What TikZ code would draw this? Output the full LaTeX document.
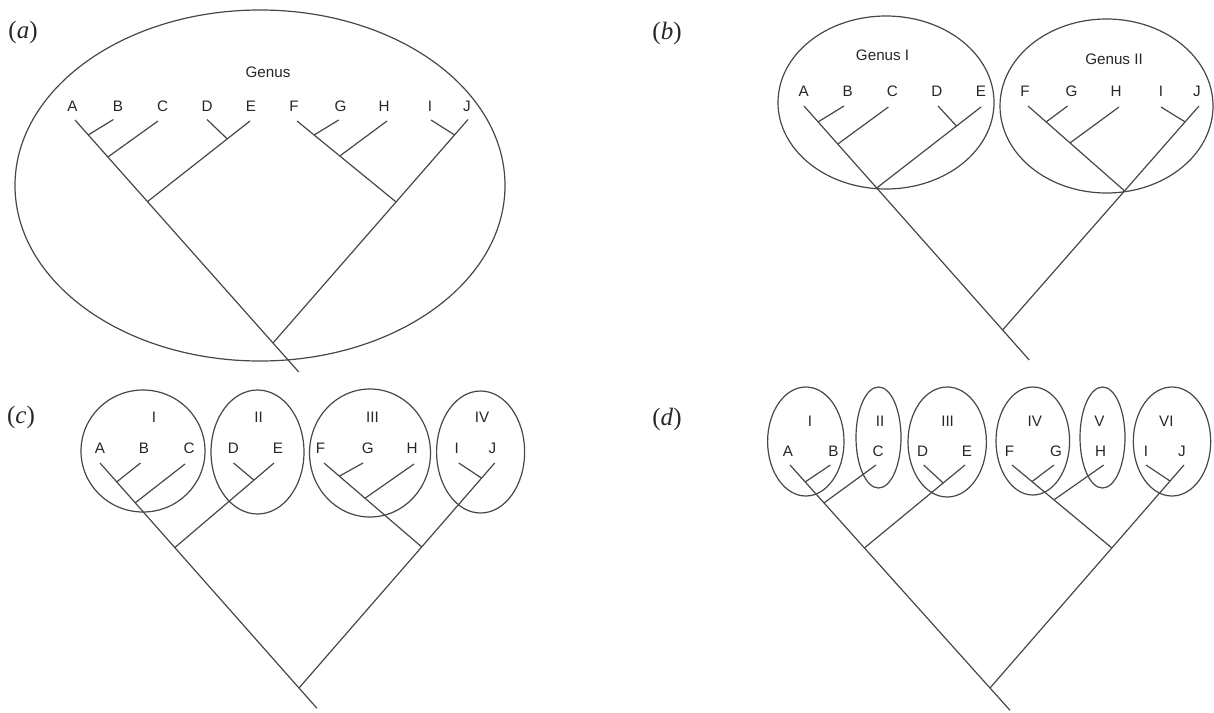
\documentclass[tikz,border=0pt]{standalone}
\usepackage{fontspec}
\setmainfont{Liberation Serif}
\newfontfamily\labfont{Liberation Sans}
\usetikzlibrary{calc,shapes.geometric}
\newcommand\drawtree[1]{%
  \draw[br] (#1TA) -- (#1AB) -- (#1ABC) -- (#1AE) -- (#1R) -- (#1End);
  \draw[br] (#1TJ) -- (#1IJ) -- (#1FJ) -- (#1R);
  \draw[br] (#1TE) -- (#1DE) -- (#1AE);
  \draw[br] (#1TF) -- (#1FG) -- (#1FH) -- (#1FJ);
  \draw[br] (#1TB) -- (#1AB);
  \draw[br] (#1TC) -- (#1ABC);
  \draw[br] (#1TD) -- (#1DE);
  \draw[br] (#1TG) -- (#1FG);
  \draw[br] (#1TH) -- (#1FH);
  \draw[br] (#1TI) -- (#1IJ);
}
\begin{document}
\begin{tikzpicture}[x=0.5pt,y=-0.5pt,
  br/.style={draw=black!72, line width=0.6pt},
  grp/.style={ellipse, draw=black!72, line width=0.6pt, inner sep=0pt},
  lab/.style={font=\labfont\fontsize{7.6}{8.5}\selectfont, text=black!85, inner sep=0pt},
  plab/.style={font=\fontsize{12.5}{14}\selectfont, text=black!85, inner sep=0pt}]
\useasboundingbox (0,0) rectangle (1214,712);

% ---------------- panel (a) ----------------
\node[plab] (pa) at (23,32) {(\textit{a})};
\node[grp, minimum width=245pt, minimum height=175.5pt] (aEll) at (260,185.5) {};
\node[lab] (aGen) at (268,72) {Genus};
\foreach \n/\x in {A/72.4,B/118,C/162.6,D/207,E/251,F/294,G/340.6,H/384,I/430,J/467}
  \node[lab] (aL\n) at (\x,106) {\n};
\coordinate (aTA) at (75,120);
\coordinate (aTB) at (113.4,119.5);
\coordinate (aTC) at (158,121);
\coordinate (aTD) at (207,119.5);
\coordinate (aTE) at (250,121);
\coordinate (aTF) at (297,121);
\coordinate (aTG) at (338.7,120);
\coordinate (aTH) at (387,121);
\coordinate (aTI) at (431,120);
\coordinate (aTJ) at (468,119.5);
\coordinate (aR) at (273,343);
\coordinate (aAB) at ($(aTA)!0.067!(aR)$);
\coordinate (aABC) at ($(aTA)!0.166!(aR)$);
\coordinate (aAE) at ($(aTA)!0.366!(aR)$);
\coordinate (aEnd) at ($(aTA)!1.13!(aR)$);
\coordinate (aIJ) at ($(aTJ)!0.069!(aR)$);
\coordinate (aFJ) at ($(aTJ)!0.369!(aR)$);
\coordinate (aDE) at ($(aTE)!0.222!(aAE)$);
\coordinate (aFG) at ($(aTF)!0.173!(aFJ)$);
\coordinate (aFH) at ($(aTF)!0.432!(aFJ)$);
\drawtree{a}

% ---------------- panel (b) ----------------
\node[plab] (pb) at (667,33) {(\textit{b})};
\node[grp, minimum width=108pt, minimum height=86.5pt] (bEll1) at (886,102.5) {};
\node[grp, minimum width=106.5pt, minimum height=87pt] (bEll2) at (1106.5,106) {};
\node[lab] (bGen1) at (882.6,55) {Genus I};
\node[lab] (bGen2) at (1114,59) {Genus II};
\foreach \n/\x in {A/803.6,B/847.8,C/892.3,D/936.8,E/981,F/1025,G/1071.5,H/1116,I/1161,J/1197}
  \node[lab] (bL\n) at (\x,91) {\n};
\coordinate (bTA) at (804,106);
\coordinate (bTB) at (844,106);
\coordinate (bTC) at (888.4,107);
\coordinate (bTD) at (938,106);
\coordinate (bTE) at (981,107);
\coordinate (bTF) at (1028,106);
\coordinate (bTG) at (1067.6,106);
\coordinate (bTH) at (1119,107);
\coordinate (bTI) at (1161,107);
\coordinate (bTJ) at (1199,106);
\coordinate (bR) at (1002.6,330);
\coordinate (bAB) at ($(bTA)!0.071!(bR)$);
\coordinate (bABC) at ($(bTA)!0.17!(bR)$);
\coordinate (bAE) at ($(bTA)!0.366!(bR)$);
\coordinate (bEnd) at ($(bTA)!1.134!(bR)$);
\coordinate (bIJ) at ($(bTJ)!0.071!(bR)$);
\coordinate (bFJ) at ($(bTJ)!0.379!(bR)$);
\coordinate (bDE) at ($(bTE)!0.235!(bAE)$);
\coordinate (bFG) at ($(bTF)!0.188!(bFJ)$);
\coordinate (bFH) at ($(bTF)!0.435!(bFJ)$);
\drawtree{b}

% ---------------- panel (c) ----------------
\node[plab] (pc) at (21,417) {(\textit{c})};
\node[grp, minimum width=62pt, minimum height=61pt] (cEll1) at (143,451) {};
\node[grp, minimum width=46.5pt, minimum height=62pt] (cEll2) at (257.5,452) {};
\node[grp, minimum width=60.5pt, minimum height=64pt] (cEll3) at (370,453) {};
\node[grp, minimum width=44pt, minimum height=61pt] (cEll4) at (480.6,452) {};
\node[lab] (cN1) at (154,417) {I};
\node[lab] (cN2) at (258.6,417) {II};
\node[lab] (cN3) at (372.4,417) {III};
\node[lab] (cN4) at (482,417) {IV};
\foreach \n/\x in {A/99.9,B/144,C/189,D/233.4,E/278,F/320.5,G/367.7,H/412,I/456.8,J/492.4}
  \node[lab] (cL\n) at (\x,448) {\n};
\coordinate (cTA) at (100,463);
\coordinate (cTB) at (140.5,463);
\coordinate (cTC) at (185,464);
\coordinate (cTD) at (233.5,463);
\coordinate (cTE) at (274,463);
\coordinate (cTF) at (324,463);
\coordinate (cTG) at (363,463);
\coordinate (cTH) at (414,464);
\coordinate (cTI) at (458.7,463);
\coordinate (cTJ) at (494.7,463);
\coordinate (cR) at (299,688);
\coordinate (cAB) at ($(cTA)!0.084!(cR)$);
\coordinate (cABC) at ($(cTA)!0.177!(cR)$);
\coordinate (cAE) at ($(cTA)!0.376!(cR)$);
\coordinate (cEnd) at ($(cTA)!1.09!(cR)$);
\coordinate (cIJ) at ($(cTJ)!0.067!(cR)$);
\coordinate (cFJ) at ($(cTJ)!0.373!(cR)$);
\coordinate (cDE) at ($(cTE)!0.202!(cAE)$);
\coordinate (cFG) at ($(cTF)!0.157!(cFJ)$);
\coordinate (cFH) at ($(cTF)!0.42!(cFJ)$);
\drawtree{c}

% ---------------- panel (d) ----------------
\node[plab] (pd) at (667,419) {(\textit{d})};
\node[grp, minimum width=38.2pt, minimum height=54.5pt] (dEll1) at (805.8,441.5) {};
\node[grp, minimum width=22.5pt, minimum height=50.5pt] (dEll2) at (878.5,437.5) {};
\node[grp, minimum width=39.2pt, minimum height=55pt] (dEll3) at (947.2,442) {};
\node[grp, minimum width=36.8pt, minimum height=54pt] (dEll4) at (1032.8,441) {};
\node[grp, minimum width=22.5pt, minimum height=50.5pt] (dEll5) at (1102.5,437.5) {};
\node[grp, minimum width=38.7pt, minimum height=54.5pt] (dEll6) at (1172,441.5) {};
\node[lab] (dN1) at (810,421) {I};
\node[lab] (dN2) at (880,421) {II};
\node[lab] (dN3) at (947.6,421) {III};
\node[lab] (dN4) at (1034.8,421) {IV};
\node[lab] (dN5) at (1099.4,421) {V};
\node[lab] (dN6) at (1166.4,421) {VI};
\foreach \n/\x in {A/788,B/833.5,C/878,D/922.5,E/967,F/1009.6,G/1056,H/1100.6,I/1146,J/1182}
  \node[lab] (dL\n) at (\x,451) {\n};
\coordinate (dTA) at (790,465);
\coordinate (dTB) at (830.4,465);
\coordinate (dTC) at (876,465);
\coordinate (dTD) at (923.7,465);
\coordinate (dTE) at (965,465);
\coordinate (dTF) at (1012,465);
\coordinate (dTG) at (1054,465);
\coordinate (dTH) at (1103.7,465);
\coordinate (dTI) at (1146,465);
\coordinate (dTJ) at (1184,465);
\coordinate (dR) at (990,688);
\coordinate (dAB) at ($(dTA)!0.076!(dR)$);
\coordinate (dABC) at ($(dTA)!0.17!(dR)$);
\coordinate (dAE) at ($(dTA)!0.372!(dR)$);
\coordinate (dEnd) at ($(dTA)!1.1!(dR)$);
\coordinate (dIJ) at ($(dTJ)!0.072!(dR)$);
\coordinate (dFJ) at ($(dTJ)!0.372!(dR)$);
\coordinate (dDE) at ($(dTE)!0.217!(dAE)$);
\coordinate (dFG) at ($(dTF)!0.2!(dFJ)$);
\coordinate (dFH) at ($(dTF)!0.42!(dFJ)$);
\drawtree{d}
\end{tikzpicture}
\end{document}
